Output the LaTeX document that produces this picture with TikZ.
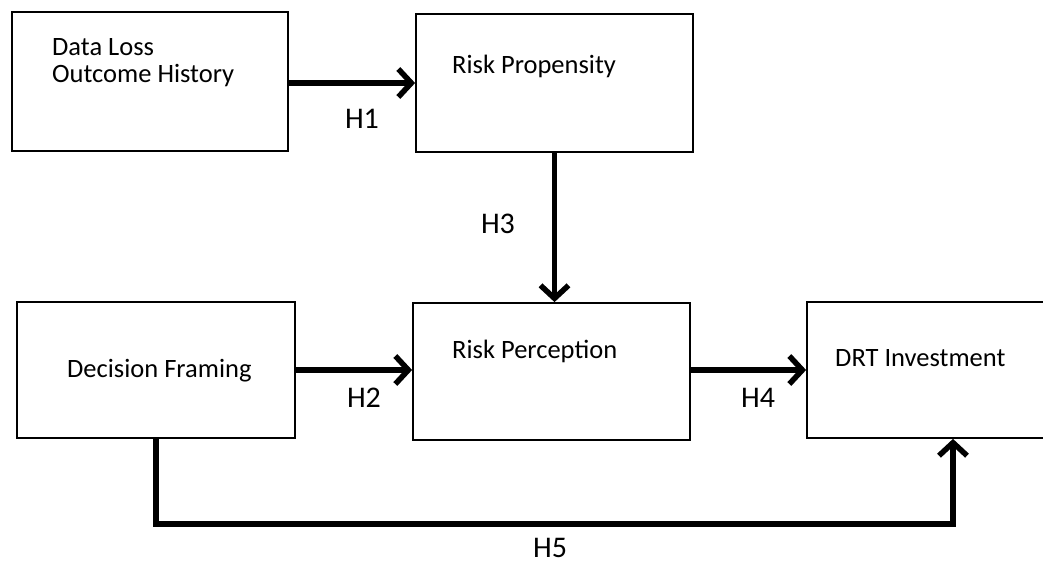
\documentclass[tikz,border=0pt]{standalone}
\usepackage{fontspec}
\setmainfont{Carlito}
\usetikzlibrary{arrows.meta,positioning}

\begin{document}
\begin{tikzpicture}[x=1pt,y=-1pt,
      every node/.style={font=\fontsize{26.5}{27}\selectfont},
      box/.style={draw,line width=1.8pt,inner sep=0pt},
      txt/.style={inner sep=0pt,anchor=base west,align=left},
      hlab/.style={font=\fontsize{30}{32}\selectfont,inner sep=0pt,text depth=0pt,anchor=base},
      conn/.style={line width=5.5pt,-{Straight Barb[length=13pt,width=28pt]}}]
    \clip (0,0) rectangle (1043,566);
    % boxes
    \node[box,minimum width=276pt,minimum height=139pt] (hist)  at (150,81.5) {};
    \node[box,minimum width=277pt,minimum height=138pt] (prop)  at (554.5,83) {};
    \node[box,minimum width=278pt,minimum height=136pt] (frame) at (156,370) {};
    \node[box,minimum width=277pt,minimum height=137pt] (perc)  at (551.5,371.5) {};
    \node[box,minimum width=292pt,minimum height=136pt] (drt)   at (953,370) {};
    % box texts
    \node[txt] (histtxt)  at (52,82)   {Data Loss\\Outcome History};
    \node[txt] (proptxt)  at (452,73)  {Risk Propensity};
    \node[txt] (frametxt) at (67,377)  {Decision Framing};
    \node[txt] (perctxt)  at (452,358) {Risk Perception};
    \node[txt] (drttxt)   at (835,366) {DRT Investment};
    % connectors
    \coordinate (bend) at (156,524);
    \draw[conn] (hist.east |- prop.west) -- (prop.west);
    \draw[conn] (prop.south) -- (prop.south |- perc.north);
    \draw[conn] (frame.east) -- (frame.east -| perc.west);
    \draw[conn] (perc.east |- frame.east) -- (frame.east -| drt.west);
    \draw[conn] (frame.south) -- (bend) -| (drt.south);
    % hypothesis labels
    \foreach \h/\x/\y in {1/362/128,2/364/407,3/498/233,4/758/407,5/550/557}
      \node[hlab] (h\h) at (\x,\y) {H\h};
\end{tikzpicture}
\end{document}
